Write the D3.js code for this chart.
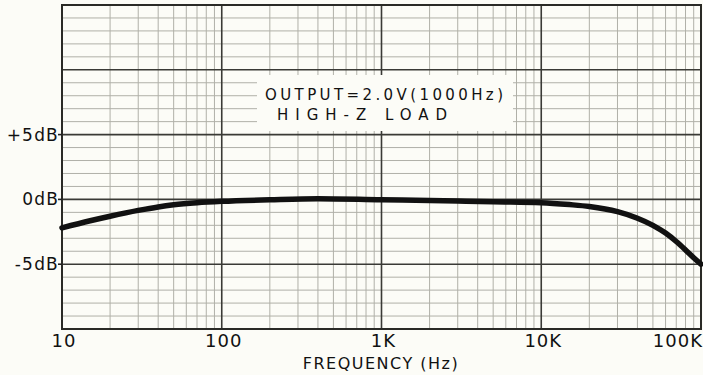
<!DOCTYPE html>
<html>
<head>
<meta charset="utf-8">
<script src="https://cdn.jsdelivr.net/npm/d3@7"></script>
<style>
  html, body { margin: 0; padding: 0; background: #fcfcf7; }
  svg { display: block; }
  text { font-family: "DejaVu Sans", "Liberation Sans", sans-serif; fill: #111; }
</style>
</head>
<body>
<svg id="chart" width="703" height="375"></svg>
<script>
// Frequency response, measured points (Hz, dB re 1 kHz)
const freqHz = [10, 15, 20, 30, 40, 50, 70, 100, 200, 400, 1000, 2000, 3000, 5000,
                10000, 15000, 20000, 30000, 40000, 50000, 60000, 70000, 80000, 90000, 100000];
const levelDb = [-2.2, -1.65, -1.3, -0.85, -0.58, -0.42, -0.26, -0.15, -0.03, 0.05, -0.03, -0.08, -0.12, -0.18,
                 -0.25, -0.4, -0.55, -0.95, -1.45, -2.0, -2.6, -3.25, -3.9, -4.5, -5.0];

// Axis ticks
const xTickValues = [10, 100, 1000, 10000, 100000];
const xTickLabels = ["10", "100", "1K", "10K", "100K"];
const yTickValues = [5, 0, -5];
const yTickLabels = ["+5dB", "0dB", "-5dB"];

// Annotation
const noteLines = ["OUTPUT=2.0V(1000Hz)", "HIGH-Z LOAD"];
const xTitle = "FREQUENCY (Hz)";

const svg = d3.select("#chart");
const plotL = 62, plotR = 701, plotT = 5, plotB = 329;

const x = d3.scaleLog().domain([10, 100000]).range([plotL, plotR]);
const y = d3.scaleLinear().domain([-10, 15]).range([plotB, plotT]);

// Graph-paper grid: 1-2-...-9 per decade, 1 dB rows
const minorX = [];
for (let d = 10; d < 100000; d *= 10) for (let k = 2; k <= 9; k++) minorX.push(d * k);
const rowsDb = d3.range(-10, 16);

const grid = svg.append("g");
grid.selectAll("line.vminor").data(minorX).join("line")
  .attr("x1", d => x(d)).attr("x2", d => x(d))
  .attr("y1", plotT).attr("y2", plotB)
  .attr("stroke", "#b0b0a8").attr("stroke-width", 1);
grid.selectAll("line.hminor").data(rowsDb.filter(v => v % 5 !== 0)).join("line")
  .attr("x1", plotL).attr("x2", plotR)
  .attr("y1", d => y(d)).attr("y2", d => y(d))
  .attr("stroke", "#b0b0a8").attr("stroke-width", 1);

// Heavier lines at decades and every 5 dB
grid.selectAll("line.vmajor").data([100, 1000, 10000]).join("line")
  .attr("x1", d => x(d)).attr("x2", d => x(d))
  .attr("y1", plotT).attr("y2", plotB)
  .attr("stroke", "#3a3a36").attr("stroke-width", 1.6);
grid.selectAll("line.hmajor").data([10, 5, 0, -5]).join("line")
  .attr("x1", plotL).attr("x2", plotR)
  .attr("y1", d => y(d)).attr("y2", d => y(d))
  .attr("stroke", "#3a3a36").attr("stroke-width", 1.6);

// Blank label area on the paper
svg.append("rect")
  .attr("x", 257).attr("y", 75).attr("width", 256).attr("height", 56)
  .attr("fill", "#fcfcf7");

// Frame
svg.append("rect")
  .attr("x", plotL).attr("y", plotT).attr("width", plotR - plotL).attr("height", plotB - plotT)
  .attr("fill", "none").attr("stroke", "#2a2a26").attr("stroke-width", 2);

// Y tick marks and labels
svg.append("g").selectAll("line").data(yTickValues).join("line")
  .attr("x1", plotL - 4).attr("x2", plotL)
  .attr("y1", d => y(d)).attr("y2", d => y(d))
  .attr("stroke", "#222").attr("stroke-width", 1.6);
svg.append("g").selectAll("text").data(yTickValues).join("text")
  .attr("x", plotL - 3).attr("y", d => y(d) + 6)
  .attr("text-anchor", "end")
  .attr("font-size", 17).attr("letter-spacing", 1.2)
  .text((d, i) => yTickLabels[i]);

// X tick labels
svg.append("g").selectAll("text").data(xTickValues).join("text")
  .attr("x", (d, i) => i === xTickValues.length - 1 ? 703 : x(d) + 2)
  .attr("y", 347)
  .attr("text-anchor", (d, i) => i === xTickValues.length - 1 ? "end" : "middle")
  .attr("font-size", 18).attr("letter-spacing", 1)
  .text((d, i) => xTickLabels[i]);

svg.append("text")
  .attr("x", 381).attr("y", 369)
  .attr("text-anchor", "middle")
  .attr("font-size", 16).attr("letter-spacing", 1.5)
  .text(xTitle);

// Note
svg.append("text").attr("x", 265).attr("y", 100)
  .attr("font-size", 15).attr("textLength", 238).attr("lengthAdjust", "spacing")
  .text(noteLines[0]);
svg.append("text").attr("x", 277).attr("y", 120)
  .attr("font-size", 15).attr("textLength", 170).attr("lengthAdjust", "spacing")
  .text(noteLines[1]);

// Response curve
const line = d3.line()
  .x((d, i) => x(freqHz[i]))
  .y(d => y(d))
  .curve(d3.curveMonotoneX);
svg.append("path")
  .datum(levelDb)
  .attr("d", line)
  .attr("fill", "none")
  .attr("stroke", "#111")
  .attr("stroke-width", 5.5)
  .attr("stroke-linecap", "round")
  .attr("stroke-linejoin", "round");
</script>
</body>
</html>
